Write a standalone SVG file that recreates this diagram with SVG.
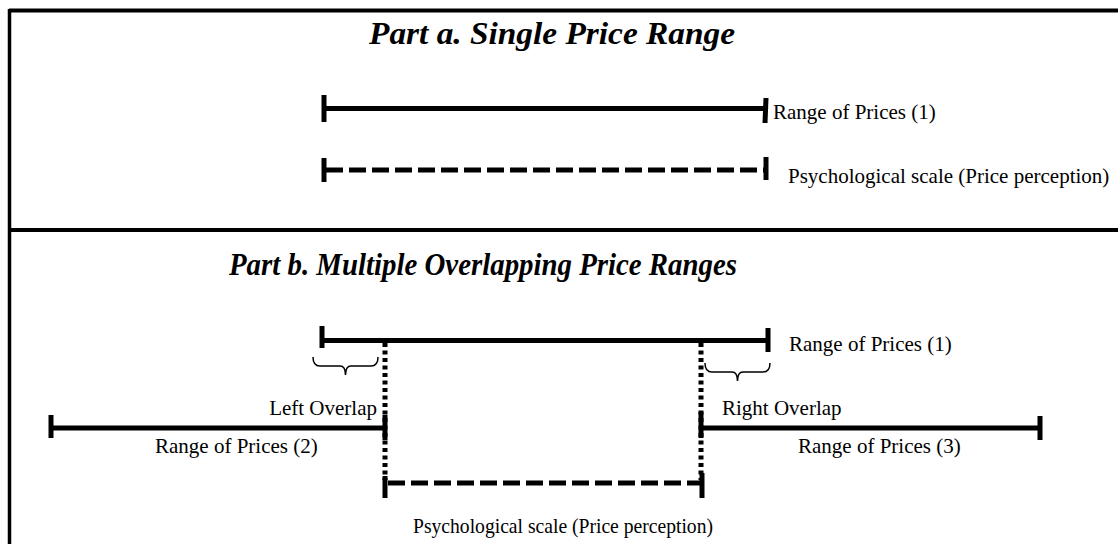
<svg xmlns="http://www.w3.org/2000/svg" width="1118" height="544" viewBox="0 0 1118 544">
<style>
.frame{stroke:#000;fill:none}
.ln{stroke:#000;stroke-width:5;fill:none}
.dash{stroke:#000;stroke-width:5;fill:none;stroke-dasharray:17 6}
.dot{stroke:#000;stroke-width:5;fill:none;stroke-dasharray:4 3.5}
.brace{stroke:#000;stroke-width:1.5;fill:none}
.title{font-family:"Liberation Serif","Times New Roman",serif;font-weight:bold;font-style:italic;font-size:31px;fill:#000}
.lbl{font-family:"Liberation Serif","Times New Roman",serif;font-size:21px;fill:#000}
</style>
<rect width="1118" height="544" fill="#fff"/>
<g id="frame">
<line class="frame" x1="9" y1="10.5" x2="1118" y2="10.5" stroke-width="4"/>
<line class="frame" x1="9.5" y1="9" x2="9.5" y2="544" stroke-width="3.5"/>
<line class="frame" x1="9" y1="230" x2="1118" y2="230" stroke-width="4"/>
</g>
<g id="titles">
<text class="title" x="552" y="44" text-anchor="middle" textLength="366" lengthAdjust="spacingAndGlyphs">Part a. Single Price Range</text>
<text class="title" x="483" y="275" text-anchor="middle" textLength="508" lengthAdjust="spacingAndGlyphs">Part b. Multiple Overlapping Price Ranges</text>
</g>
<g id="connectors">
<line class="dot" x1="385" y1="343" x2="385" y2="480"/>
<line class="dot" x1="701" y1="343" x2="701" y2="480"/>
</g>
<g id="a-range1">
<line class="ln" x1="324" y1="108.5" x2="765" y2="108.5"/>
<line class="ln" x1="324" y1="95" x2="324" y2="122"/>
<line class="ln" x1="766" y1="98" x2="765" y2="123"/>
<text class="lbl" x="773" y="119">Range of Prices (1)</text>
</g>
<g id="a-psych">
<line class="dash" x1="326" y1="170" x2="766" y2="170"/>
<line class="ln" x1="324" y1="158" x2="324" y2="182"/>
<line class="ln" x1="766" y1="157" x2="766" y2="180"/>
<text class="lbl" x="788" y="183">Psychological scale (Price perception)</text>
</g>
<g id="b-range1">
<line class="ln" x1="322" y1="340.5" x2="768" y2="340.5"/>
<line class="ln" x1="322" y1="326" x2="322" y2="348"/>
<line class="ln" x1="768" y1="328" x2="768" y2="352"/>
<text class="lbl" x="789" y="351">Range of Prices (1)</text>
</g>
<g id="left-overlap">
<path class="brace" d="M313 357 C313 362 315 366 320 366 L340 366 C343 366 345.5 369 345.5 375 C345.5 369 348 366 351 366 L371 366 C376 366 378 362 378 357"/>
<text class="lbl" x="377" y="415" text-anchor="end">Left Overlap</text>
</g>
<g id="right-overlap">
<path class="brace" d="M705 363 C705 368 707 372 712 372 L732 372 C735 372 737.5 375 737.5 381 C737.5 375 740 372 743 372 L763 372 C768 372 770 368 770 363"/>
<text class="lbl" x="722" y="415">Right Overlap</text>
</g>
<g id="b-range2">
<line class="ln" x1="51" y1="428" x2="385" y2="428"/>
<line class="ln" x1="51" y1="415" x2="51" y2="438"/>
<line class="ln" x1="385" y1="415" x2="385" y2="440"/>
<text class="lbl" x="155" y="453">Range of Prices (2)</text>
</g>
<g id="b-range3">
<line class="ln" x1="701" y1="428" x2="1040" y2="428"/>
<line class="ln" x1="701" y1="412" x2="701" y2="438"/>
<line class="ln" x1="1040" y1="416" x2="1040" y2="440"/>
<text class="lbl" x="798" y="453">Range of Prices (3)</text>
</g>
<g id="b-psych">
<line class="dash" x1="388" y1="483" x2="702" y2="483"/>
<line class="ln" x1="385" y1="476" x2="385" y2="498"/>
<line class="ln" x1="702" y1="473" x2="702" y2="498"/>
<text class="lbl" x="413" y="533" font-size="20" textLength="300" lengthAdjust="spacingAndGlyphs">Psychological scale (Price perception)</text>
</g>
</svg>
